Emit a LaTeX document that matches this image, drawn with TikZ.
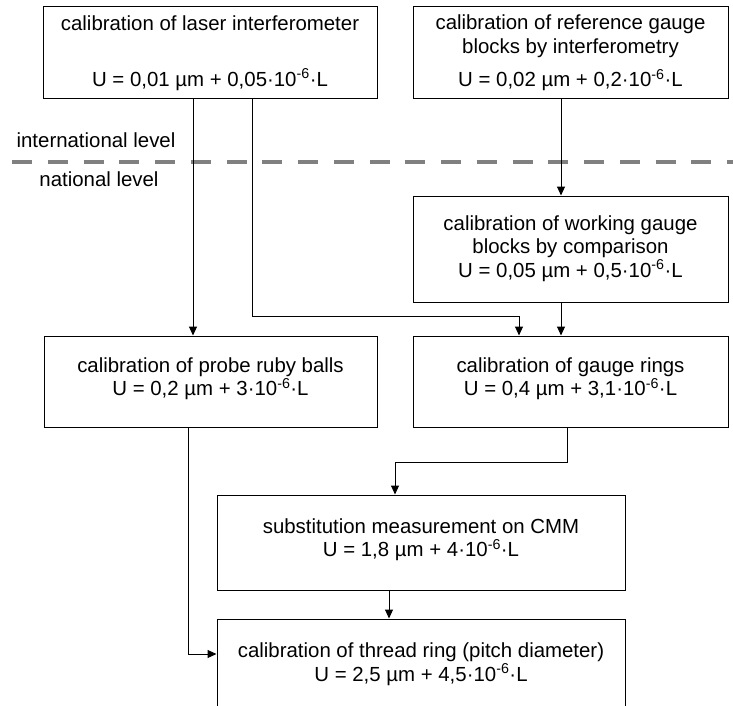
\documentclass[tikz,border=0pt]{standalone}
\usepackage{fontspec}
\setmainfont{Liberation Sans}
\usepackage{tikz}
\usetikzlibrary{arrows.meta, positioning}

% extra depth below the last line of a box
\newcommand{\lowpad}[1]{\rule[-#1]{0pt}{#1}}

\begin{document}
\begin{tikzpicture}[
    x=1pt, y=-1pt,
    box/.style={rectangle, draw, line width=1pt, align=center, inner sep=0pt, font=\fontsize{20.4pt}{23.4pt}\selectfont},
    arrow/.style={-{Triangle[length=9pt, width=8pt]}, line width=1pt},
    divider/.style={line width=4pt, color=gray, dash pattern=on 20pt off 15.75pt},
    lvltext/.style={anchor=base, font=\fontsize{20.4pt}{23.4pt}\selectfont}
]
\clip (0,0) rectangle (733,706);

% International level
\node[box, minimum width=334pt, minimum height=92pt] (laser) at (210,53)
    {calibration of laser interferometer\\[33pt]U = 0,01 µm + 0,05·10\textsuperscript{-6}·L};
\node[box, minimum width=315pt, minimum height=92pt] (ref) at (570.5,53)
    {calibration of reference gauge\\blocks by interferometry\\[10pt]U = 0,02 µm + 0,2·10\textsuperscript{-6}·L};

% Level border
\draw[divider] (12,162) -- (740,162);
\node[lvltext] (intl) at (96,147.5) {international level};
\node[lvltext] (natl) at (99,186.5) {national level};

% National level
\node[box, minimum width=315pt, minimum height=106pt] (work) at (570.5,249)
    {calibration of working gauge\\blocks by comparison\\U = 0,05 µm + 0,5·10\textsuperscript{-6}·L\lowpad{5pt}};
\node[box, minimum width=333pt, minimum height=91pt] (probe) at (210.5,381.5)
    {calibration of probe ruby balls\\U = 0,2 µm + 3·10\textsuperscript{-6}·L\lowpad{9.5pt}};
\node[box, minimum width=315pt, minimum height=91pt] (rings) at (570.5,381.5)
    {calibration of gauge rings\\U = 0,4 µm + 3,1·10\textsuperscript{-6}·L\lowpad{9.5pt}};
\node[box, minimum width=408pt, minimum height=95pt] (subst) at (421,542.5)
    {substitution measurement on CMM\\U = 1,8 µm + 4·10\textsuperscript{-6}·L\lowpad{10pt}};
\node[box, minimum width=408pt, minimum height=95pt] (thread) at (421,666.5)
    {calibration of thread ring (pitch diameter)\\U = 2,5 µm + 4,5·10\textsuperscript{-6}·L\lowpad{9pt}};

% Arrows
\draw[arrow] ([xshift=-17pt]laser.south) -- ([xshift=-17pt]laser.south |- probe.north);
\draw[arrow] ([xshift=42pt]laser.south) -- ++(0,217) -| ([xshift=-51.5pt]rings.north);
\draw[arrow] ([xshift=-9.5pt]ref.south) -- ([xshift=-9.5pt]work.north);
\draw[arrow] ([xshift=-9.5pt]work.south) -- ([xshift=-9.5pt]rings.north);
\draw[arrow] ([xshift=-22.5pt]probe.south) |- ([yshift=12.5pt]thread.west);
\draw[arrow] ([xshift=-3.5pt]rings.south) -- ++(0,34.5) -| ([xshift=-26pt]subst.north);
\draw[arrow] ([xshift=-32pt]subst.south) -- ([xshift=-32pt]thread.north);

\end{tikzpicture}
\end{document}
